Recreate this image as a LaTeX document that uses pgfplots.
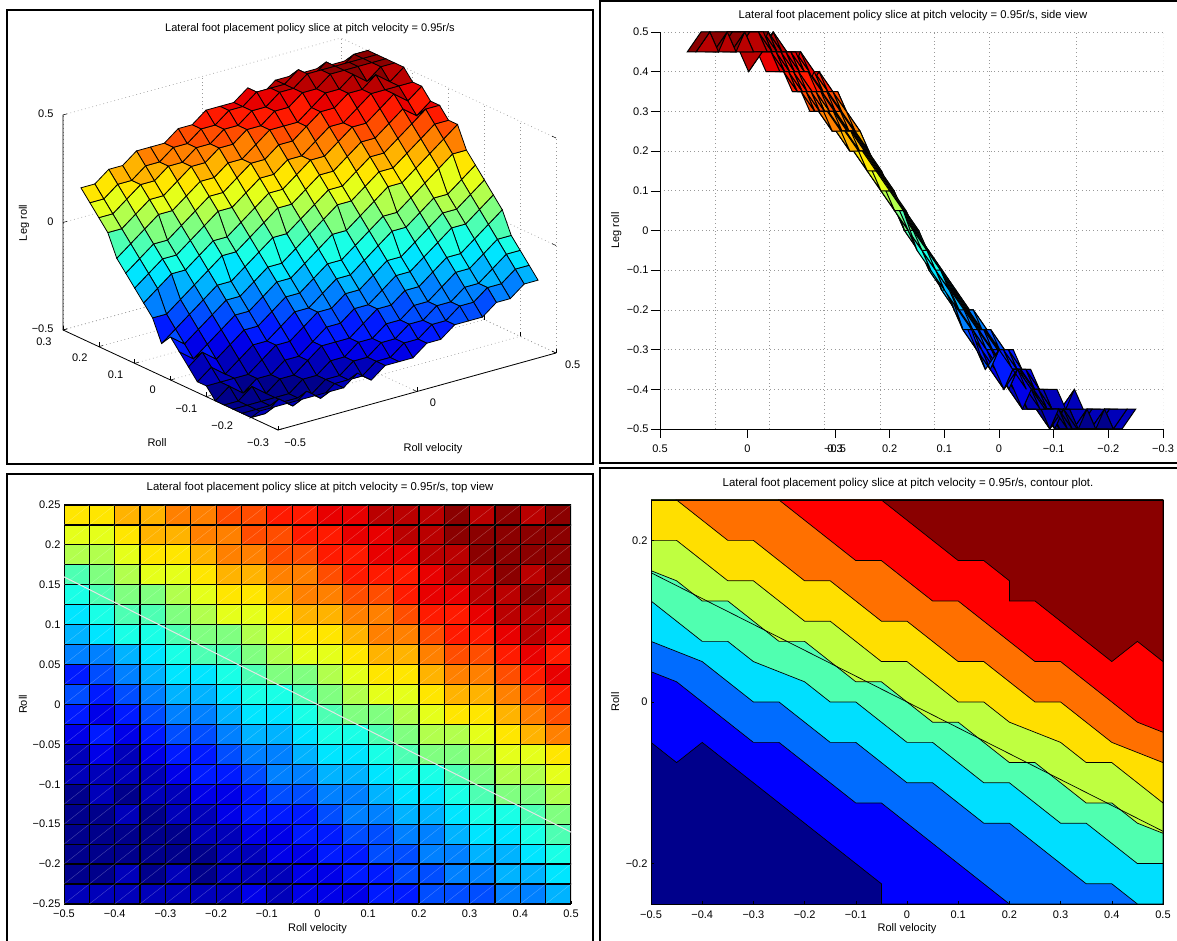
\documentclass[border=0pt]{standalone}
\usepackage{fontspec}
\setmainfont{Liberation Sans}
\usepackage{pgfplots}
\usepackage{pgfplotstable}
\pgfplotsset{compat=1.18}
\newcommand{\lab}{\fontsize{11}{13}\selectfont}
\pgfplotstableread[row sep=\\]{
v r z\\
-.5 -.25 -.45\\ -.45 -.25 -.45\\ -.4 -.25 -.45\\ -.35 -.25 -.45\\ -.3 -.25 -.45\\ -.25 -.25 -.45\\ -.2 -.25 -.45\\ -.15 -.25 -.4\\ -.1 -.25 -.45\\ -.05 -.25 -.4\\ 0 -.25 -.4\\ .05 -.25 -.4\\ .1 -.25 -.35\\ .15 -.25 -.35\\ .2 -.25 -.3\\ .25 -.25 -.3\\ .3 -.25 -.3\\ .35 -.25 -.25\\ .4 -.25 -.25\\ .45 -.25 -.2\\ .5 -.25 -.2\\
-.5 -.225 -.5\\ -.45 -.225 -.5\\ -.4 -.225 -.45\\ -.35 -.225 -.5\\ -.3 -.225 -.45\\ -.25 -.225 -.5\\ -.2 -.225 -.45\\ -.15 -.225 -.45\\ -.1 -.225 -.45\\ -.05 -.225 -.4\\ 0 -.225 -.4\\ .05 -.225 -.35\\ .1 -.225 -.35\\ .15 -.225 -.3\\ .2 -.225 -.3\\ .25 -.225 -.25\\ .3 -.225 -.25\\ .35 -.225 -.2\\ .4 -.225 -.2\\ .45 -.225 -.15\\ .5 -.225 -.15\\
-.5 -.2 -.5\\ -.45 -.2 -.5\\ -.4 -.2 -.5\\ -.35 -.2 -.5\\ -.3 -.2 -.5\\ -.25 -.2 -.5\\ -.2 -.2 -.45\\ -.15 -.2 -.45\\ -.1 -.2 -.4\\ -.05 -.2 -.4\\ 0 -.2 -.35\\ .05 -.2 -.35\\ .1 -.2 -.3\\ .15 -.2 -.3\\ .2 -.2 -.25\\ .25 -.2 -.25\\ .3 -.2 -.2\\ .35 -.2 -.2\\ .4 -.2 -.15\\ .45 -.2 -.1\\ .5 -.2 -.1\\
-.5 -.175 -.5\\ -.45 -.175 -.5\\ -.4 -.175 -.5\\ -.35 -.175 -.5\\ -.3 -.175 -.5\\ -.25 -.175 -.45\\ -.2 -.175 -.45\\ -.15 -.175 -.4\\ -.1 -.175 -.4\\ -.05 -.175 -.35\\ 0 -.175 -.35\\ .05 -.175 -.3\\ .1 -.175 -.3\\ .15 -.175 -.25\\ .2 -.175 -.25\\ .25 -.175 -.2\\ .3 -.175 -.15\\ .35 -.175 -.15\\ .4 -.175 -.1\\ .45 -.175 -.05\\ .5 -.175 -.05\\
-.5 -.15 -.5\\ -.45 -.15 -.5\\ -.4 -.15 -.45\\ -.35 -.15 -.5\\ -.3 -.15 -.45\\ -.25 -.15 -.45\\ -.2 -.15 -.4\\ -.15 -.15 -.35\\ -.1 -.15 -.35\\ -.05 -.15 -.35\\ 0 -.15 -.3\\ .05 -.15 -.25\\ .1 -.15 -.25\\ .15 -.15 -.2\\ .2 -.15 -.2\\ .25 -.15 -.15\\ .3 -.15 -.1\\ .35 -.15 -.1\\ .4 -.15 -.05\\ .45 -.15 0\\ .5 -.15 .05\\
-.5 -.125 -.5\\ -.45 -.125 -.45\\ -.4 -.125 -.5\\ -.35 -.125 -.45\\ -.3 -.125 -.45\\ -.25 -.125 -.4\\ -.2 -.125 -.4\\ -.15 -.125 -.35\\ -.1 -.125 -.3\\ -.05 -.125 -.3\\ 0 -.125 -.25\\ .05 -.125 -.25\\ .1 -.125 -.2\\ .15 -.125 -.15\\ .2 -.125 -.15\\ .25 -.125 -.1\\ .3 -.125 -.05\\ .35 -.125 0\\ .4 -.125 0\\ .45 -.125 .05\\ .5 -.125 .1\\
-.5 -.1 -.45\\ -.45 -.1 -.45\\ -.4 -.1 -.45\\ -.35 -.1 -.45\\ -.3 -.1 -.4\\ -.25 -.1 -.35\\ -.2 -.1 -.35\\ -.15 -.1 -.3\\ -.1 -.1 -.25\\ -.05 -.1 -.25\\ 0 -.1 -.2\\ .05 -.1 -.2\\ .1 -.1 -.15\\ .15 -.1 -.1\\ .2 -.1 -.1\\ .25 -.1 -.05\\ .3 -.1 0\\ .35 -.1 .05\\ .4 -.1 .05\\ .45 -.1 .1\\ .5 -.1 .15\\
-.5 -.075 -.45\\ -.45 -.075 -.4\\ -.4 -.075 -.45\\ -.35 -.075 -.4\\ -.3 -.075 -.35\\ -.25 -.075 -.35\\ -.2 -.075 -.3\\ -.15 -.075 -.25\\ -.1 -.075 -.25\\ -.05 -.075 -.2\\ 0 -.075 -.15\\ .05 -.075 -.15\\ .1 -.075 -.1\\ .15 -.075 -.05\\ .2 -.075 0\\ .25 -.075 0\\ .3 -.075 .05\\ .35 -.075 .1\\ .4 -.075 .1\\ .45 -.075 .15\\ .5 -.075 .2\\
-.5 -.05 -.4\\ -.45 -.05 -.35\\ -.4 -.05 -.4\\ -.35 -.05 -.35\\ -.3 -.05 -.3\\ -.25 -.05 -.3\\ -.2 -.05 -.25\\ -.15 -.05 -.2\\ -.1 -.05 -.2\\ -.05 -.05 -.15\\ 0 -.05 -.1\\ .05 -.05 -.1\\ .1 -.05 -.05\\ .15 -.05 0\\ .2 -.05 .05\\ .25 -.05 .05\\ .3 -.05 .1\\ .35 -.05 .15\\ .4 -.05 .2\\ .45 -.05 .25\\ .5 -.05 .25\\
-.5 -.025 -.35\\ -.45 -.025 -.4\\ -.4 -.025 -.35\\ -.35 -.025 -.3\\ -.3 -.025 -.25\\ -.25 -.025 -.25\\ -.2 -.025 -.2\\ -.15 -.025 -.15\\ -.1 -.025 -.15\\ -.05 -.025 -.1\\ 0 -.025 -.05\\ .05 -.025 0\\ .1 -.025 0\\ .15 -.025 .05\\ .2 -.025 .1\\ .25 -.025 .15\\ .3 -.025 .15\\ .35 -.025 .2\\ .4 -.025 .25\\ .45 -.025 .3\\ .5 -.025 .35\\
-.5 0 -.3\\ -.45 0 -.35\\ -.4 0 -.3\\ -.35 0 -.25\\ -.3 0 -.2\\ -.25 0 -.2\\ -.2 0 -.15\\ -.15 0 -.1\\ -.1 0 -.1\\ -.05 0 -.05\\ 0 0 0\\ .05 0 .05\\ .1 0 .1\\ .15 0 .1\\ .2 0 .15\\ .25 0 .2\\ .3 0 .2\\ .35 0 .25\\ .4 0 .3\\ .45 0 .35\\ .5 0 .35\\
-.5 .025 -.35\\ -.45 .025 -.3\\ -.4 .025 -.25\\ -.35 .025 -.2\\ -.3 .025 -.15\\ -.25 .025 -.15\\ -.2 .025 -.1\\ -.15 .025 -.05\\ -.1 .025 0\\ -.05 .025 0\\ 0 .025 .05\\ .05 .025 .1\\ .1 .025 .15\\ .15 .025 .15\\ .2 .025 .2\\ .25 .025 .25\\ .3 .025 .25\\ .35 .025 .3\\ .4 .025 .35\\ .45 .025 .4\\ .5 .025 .4\\
-.5 .05 -.25\\ -.45 .05 -.25\\ -.4 .05 -.2\\ -.35 .05 -.15\\ -.3 .05 -.1\\ -.25 .05 -.05\\ -.2 .05 -.05\\ -.15 .05 0\\ -.1 .05 .05\\ -.05 .05 .1\\ 0 .05 .1\\ .05 .05 .15\\ .1 .05 .2\\ .15 .05 .2\\ .2 .05 .25\\ .25 .05 .3\\ .3 .05 .3\\ .35 .05 .35\\ .4 .05 .4\\ .45 .05 .35\\ .5 .05 .4\\
-.5 .075 -.2\\ -.45 .075 -.15\\ -.4 .075 -.1\\ -.35 .075 -.1\\ -.3 .075 -.05\\ -.25 .075 0\\ -.2 .075 0\\ -.15 .075 .05\\ -.1 .075 .1\\ -.05 .075 .15\\ 0 .075 .15\\ .05 .075 .2\\ .1 .075 .25\\ .15 .075 .25\\ .2 .075 .3\\ .25 .075 .35\\ .3 .075 .35\\ .35 .075 .4\\ .4 .075 .45\\ .45 .075 .4\\ .5 .075 .45\\
-.5 .1 -.15\\ -.45 .1 -.1\\ -.4 .1 -.05\\ -.35 .1 -.05\\ -.3 .1 0\\ -.25 .1 .05\\ -.2 .1 .1\\ -.15 .1 .1\\ -.1 .1 .15\\ -.05 .1 .2\\ 0 .1 .2\\ .05 .1 .25\\ .1 .1 .25\\ .15 .1 .3\\ .2 .1 .35\\ .25 .1 .35\\ .3 .1 .4\\ .35 .1 .45\\ .4 .1 .45\\ .45 .1 .45\\ .5 .1 .45\\
-.5 .125 -.1\\ -.45 .125 -.05\\ -.4 .125 0\\ -.35 .125 0\\ -.3 .125 .05\\ -.25 .125 .1\\ -.2 .125 .15\\ -.15 .125 .15\\ -.1 .125 .2\\ -.05 .125 .25\\ 0 .125 .25\\ .05 .125 .3\\ .1 .125 .3\\ .15 .125 .35\\ .2 .125 .4\\ .25 .125 .4\\ .3 .125 .45\\ .35 .125 .45\\ .4 .125 .5\\ .45 .125 .45\\ .5 .125 .5\\
-.5 .15 -.05\\ -.45 .15 0\\ -.4 .15 .05\\ -.35 .15 .1\\ -.3 .15 .1\\ -.25 .15 .15\\ -.2 .15 .2\\ -.15 .15 .2\\ -.1 .15 .25\\ -.05 .15 .25\\ 0 .15 .3\\ .05 .15 .35\\ .1 .15 .35\\ .15 .15 .35\\ .2 .15 .4\\ .25 .15 .45\\ .3 .15 .45\\ .35 .15 .5\\ .4 .15 .45\\ .45 .15 .5\\ .5 .15 .5\\
-.5 .175 .05\\ -.45 .175 .05\\ -.4 .175 .1\\ -.35 .175 .15\\ -.3 .175 .15\\ -.25 .175 .2\\ -.2 .175 .25\\ -.15 .175 .25\\ -.1 .175 .3\\ -.05 .175 .3\\ 0 .175 .35\\ .05 .175 .35\\ .1 .175 .4\\ .15 .175 .4\\ .2 .175 .45\\ .25 .175 .45\\ .3 .175 .5\\ .35 .175 .5\\ .4 .175 .5\\ .45 .175 .5\\ .5 .175 .5\\
-.5 .2 .1\\ -.45 .2 .1\\ -.4 .2 .15\\ -.35 .2 .2\\ -.3 .2 .2\\ -.25 .2 .25\\ -.2 .2 .25\\ -.15 .2 .3\\ -.1 .2 .3\\ -.05 .2 .35\\ 0 .2 .35\\ .05 .2 .4\\ .1 .2 .4\\ .15 .2 .45\\ .2 .2 .45\\ .25 .2 .5\\ .3 .2 .5\\ .35 .2 .5\\ .4 .2 .5\\ .45 .2 .5\\ .5 .2 .5\\
-.5 .225 .15\\ -.45 .225 .15\\ -.4 .225 .2\\ -.35 .225 .2\\ -.3 .225 .25\\ -.25 .225 .25\\ -.2 .225 .3\\ -.15 .225 .3\\ -.1 .225 .35\\ -.05 .225 .35\\ 0 .225 .4\\ .05 .225 .4\\ .1 .225 .45\\ .15 .225 .45\\ .2 .225 .45\\ .25 .225 .5\\ .3 .225 .45\\ .35 .225 .5\\ .4 .225 .45\\ .45 .225 .5\\ .5 .225 .5\\
-.5 .25 .2\\ -.45 .25 .2\\ -.4 .25 .25\\ -.35 .25 .25\\ -.3 .25 .3\\ -.25 .25 .3\\ -.2 .25 .3\\ -.15 .25 .35\\ -.1 .25 .35\\ -.05 .25 .4\\ 0 .25 .4\\ .05 .25 .4\\ .1 .25 .45\\ .15 .25 .4\\ .2 .25 .45\\ .25 .25 .45\\ .3 .25 .45\\ .35 .25 .45\\ .4 .25 .45\\ .45 .25 .45\\ .5 .25 .45\\
}\surfdata
\definecolor{c1}{HTML}{00008B}
\definecolor{c2}{HTML}{0000FF}
\definecolor{c3}{HTML}{006CFF}
\definecolor{c4}{HTML}{00DFFF}
\definecolor{c5}{HTML}{50FFB0}
\definecolor{c6}{HTML}{BFFF40}
\definecolor{c7}{HTML}{FFDF00}
\definecolor{c8}{HTML}{FF7000}
\definecolor{c9}{HTML}{FF0000}
\definecolor{c10}{HTML}{8A0000}
\pgfplotsset{
  colormap={myjet}{rgb255=(0,0,139) rgb255=(0,0,255) rgb255=(0,128,255) rgb255=(0,255,255) rgb255=(128,255,128) rgb255=(255,255,0) rgb255=(255,128,0) rgb255=(255,0,0) rgb255=(139,0,0)},
  common/.style={
    scale only axis,
    colormap name=myjet,
    point meta min=-0.5, point meta max=0.5,
    tick label style={font=\lab},
    label style={font=\lab},
    title style={font=\lab,yshift=-2pt},
    every tick/.style={black,line width=0.5pt},
  },
  srf/.style={surf, shader=flat corner, draw=black, line width=0.8pt, mesh/cols=21, point meta=\thisrow{z}},
  dots/.style={gray!80,line width=0.6pt,dash pattern=on 0.8pt off 3pt},
}
\begin{document}
\begin{tikzpicture}[x=1pt,y=1pt]
\path[use as bounding box] (0pt,0pt) rectangle (1177pt,941pt);
% ---------- panel 1
\begin{axis}[common,
  at={(309.5pt,707pt)}, anchor=origin,
  x={(278pt,77pt)}, y={(-358.3pt,166.7pt)}, z={(0pt,215pt)},
  xmin=-0.5,xmax=0.5,ymin=-0.3,ymax=0.3,zmin=-0.5,zmax=0.5,
  axis line style={draw=none},
  xtick={-0.5,0,0.5}, xticklabels={−0.5,0,0.5},
  ytick={-0.3,-0.2,-0.1,0,0.1,0.2,0.3}, yticklabels={−0.3,−0.2,−0.1,0,0.1,0.2,0.3},
  ztick={-0.5,0,0.5}, zticklabels={−0.5,0,0.5},
  xtick pos=left, ytick pos=left, ztick pos=left,
  xticklabel style={xshift=11pt,yshift=-3pt},
  yticklabel style={xshift=-12pt,yshift=-2pt},
  zticklabel style={xshift=-6pt},
  grid=major, grid style={dots},
  z buffer=sort, clip=false,
]
\draw[black,line width=0.8pt] (axis cs:-0.5,0.3,0.5) -- (axis cs:-0.5,0.3,-0.5) -- (axis cs:-0.5,-0.3,-0.5) -- (axis cs:0.5,-0.3,-0.5);
\addplot3[srf] table[x=v,y=r,z=z] {\surfdata};
\end{axis}
\node[font=\lab] at (310pt,912pt) {Lateral foot placement policy slice at pitch velocity = 0.95r/s};
\node[font=\lab] at (433pt,492pt) {Roll velocity};
\node[font=\lab] at (157pt,498pt) {Roll};
\node[font=\lab,rotate=90] at (24pt,718pt) {Leg roll};
% ---------- panel 2
\begin{axis}[common,
  at={(660pt,512pt)}, anchor=south west, width=503pt, height=397pt,
  xmin=0,xmax=503,ymin=-0.5,ymax=0.5,
  axis lines=left, axis line style={-,line width=0.8pt},
  tick align=outside, tick pos=left, major tick length=9pt,
  xtick={0,87.5,175,229.67,284.33,339,393.67,448.33,503},
  xticklabels={0.5,0,−0.5,0.2,0.1,0,−0.1,−0.2,−0.3},
  extra x ticks={175}, extra x tick labels={0.3},
  xticklabel style={yshift=-3pt},
  yticklabel style={xshift=1pt},
  ytick={-0.5,-0.4,-0.3,-0.2,-0.1,0,0.1,0.2,0.3,0.4,0.5},
  yticklabels={−0.5,−0.4,−0.3,−0.2,−0.1,0,0.1,0.2,0.3,0.4,0.5},
  ymajorgrids, grid style={dots},
  unbounded coords=jump,
  title={Lateral foot placement policy slice at pitch velocity = 0.95r/s, side view},
  title style={font=\fontsize{11.25}{13}\selectfont,at={(axis description cs:0.503,1.03)},anchor=center},
  ylabel={Leg roll}, ylabel style={at={(axis description cs:-0.087,0.5)},anchor=center},
]
\addplot[dots,forget plot] coordinates {(55,-0.5) (55,0.5) (0,nan) (109,-0.5) (109,0.5) (0,nan) (164,-0.5) (164,0.5) (0,nan) (220,-0.5) (220,0.5) (0,nan) (274,-0.5) (274,0.5) (0,nan) (329,-0.5) (329,0.5) (0,nan) (416,-0.5) (416,0.5) (0,nan) (503,-0.5) (503,0.5)};
\addplot[srf,line width=1pt] table[x expr={(0.5-\thisrow{v})*175+(0.3-\thisrow{r})*546.7},y=z] {\surfdata};
\end{axis}
% ---------- panel 3
\begin{axis}[common,
  at={(64pt,37pt)}, anchor=south west, width=507pt, height=399pt,
  xmin=-0.5,xmax=0.5,ymin=-0.25,ymax=0.25,
  axis lines=left, axis line style={-,line width=0.8pt},
  tick align=inside, major tick length=3pt,
  xtick={-0.5,-0.4,-0.3,-0.2,-0.1,0,0.1,0.2,0.3,0.4,0.5},
  xticklabels={−0.5,−0.4,−0.3,−0.2,−0.1,0,0.1,0.2,0.3,0.4,0.5},
  ytick={-0.25,-0.2,-0.15,-0.1,-0.05,0,0.05,0.1,0.15,0.2,0.25},
  yticklabels={−0.25,−0.2,−0.15,−0.1,−0.05,0,0.05,0.1,0.15,0.2,0.25},
  xticklabel style={yshift=-2pt},
  unbounded coords=jump,
  title={Lateral foot placement policy slice at pitch velocity = 0.95r/s, top view},
  title style={font=\fontsize{11.35}{13}\selectfont,at={(axis description cs:0.505,1.033)},anchor=center},
  xlabel={Roll velocity}, xlabel style={at={(axis description cs:0.5,-0.063)},anchor=center},
  ylabel={Roll}, ylabel style={at={(axis description cs:-0.081,0.5)},anchor=center},
]
\addplot[srf,line width=1.2pt] table[x=v,y=r] {\surfdata};
\addplot[white,opacity=0.3,line width=0.35pt,forget plot] coordinates {
(-.5,-.25) (.5,.25) (0,nan) (-.5,-.225) (.45,.25) (0,nan) (-.5,-.2) (.4,.25) (0,nan) (-.5,-.175) (.35,.25) (0,nan) (-.5,-.15) (.3,.25) (0,nan)
(-.5,-.125) (.25,.25) (0,nan) (-.5,-.1) (.2,.25) (0,nan) (-.5,-.075) (.15,.25) (0,nan) (-.5,-.05) (.1,.25) (0,nan) (-.5,-.025) (.05,.25) (0,nan)
(-.5,0) (0,.25) (0,nan) (-.5,.025) (-.05,.25) (0,nan) (-.5,.05) (-.1,.25) (0,nan) (-.5,.075) (-.15,.25) (0,nan) (-.5,.1) (-.2,.25) (0,nan)
(-.5,.125) (-.25,.25) (0,nan) (-.5,.15) (-.3,.25) (0,nan) (-.5,.175) (-.35,.25) (0,nan) (-.5,.2) (-.4,.25) (0,nan) (-.5,.225) (-.45,.25) (0,nan)
(-.45,-.25) (.5,.225) (0,nan) (-.4,-.25) (.5,.2) (0,nan) (-.35,-.25) (.5,.175) (0,nan) (-.3,-.25) (.5,.15) (0,nan) (-.25,-.25) (.5,.125) (0,nan)
(-.2,-.25) (.5,.1) (0,nan) (-.15,-.25) (.5,.075) (0,nan) (-.1,-.25) (.5,.05) (0,nan) (-.05,-.25) (.5,.025) (0,nan) (0,-.25) (.5,0) (0,nan)
(.05,-.25) (.5,-.025) (0,nan) (.1,-.25) (.5,-.05) (0,nan) (.15,-.25) (.5,-.075) (0,nan) (.2,-.25) (.5,-.1) (0,nan) (.25,-.25) (.5,-.125) (0,nan)
(.3,-.25) (.5,-.15) (0,nan) (.35,-.25) (.5,-.175) (0,nan) (.4,-.25) (.5,-.2) (0,nan) (.45,-.25) (.5,-.225)};
\addplot[white!80!gray,line width=1pt,forget plot] coordinates {(-0.5,0.16) (0.5,-0.16)};
\end{axis}
% ---------- panel 4
\begin{axis}[common,
  at={(651pt,37pt)}, anchor=south west, width=512pt, height=404pt,
  xmin=-0.5,xmax=0.5,ymin=-0.25,ymax=0.25,
  axis on top, axis line style={line width=0.8pt},
  tick align=inside, major tick length=3pt, tick pos=left,
  xtick={-0.5,-0.4,-0.3,-0.2,-0.1,0,0.1,0.2,0.3,0.4,0.5},
  xticklabels={−0.5,−0.4,−0.3,−0.2,−0.1,0,0.1,0.2,0.3,0.4,0.5},
  ytick={-0.2,0,0.2}, yticklabels={−0.2,0,0.2},
  xticklabel style={yshift=-3pt},
  title={Lateral foot placement policy slice at pitch velocity = 0.95r/s, contour plot.},
  title style={font=\fontsize{11.45}{13}\selectfont,at={(axis description cs:0.502,1.032)},anchor=center},
  xlabel={Roll velocity}, xlabel style={at={(axis description cs:0.5,-0.062)},anchor=center},
  ylabel={Roll}, ylabel style={at={(axis description cs:-0.07,0.5)},anchor=center},
]
\addplot[fill=c1,draw=black,line width=0.7pt] coordinates {(-.5,-.25) (.5,-.25) (.5,.25) (-.5,.25)} --cycle;
\addplot[fill=c2,draw=black,line width=0.7pt] coordinates {(-.5,-.05) (-.45,-.075) (-.4,-.05) (-.05,-.225) (-.05,-.25) (.5,-.25) (.5,.25) (-.5,.25)} --cycle;
\addplot[fill=c3,draw=black,line width=0.7pt] coordinates {(-.5,.0375) (-.45,.025) (-.4,0) (-.3,-.05) (-.25,-.05) (-.1,-.125) (-.05,-.125) (.2,-.25) (.5,-.25) (.5,.25) (-.5,.25)} --cycle;
\addplot[fill=c4,draw=black,line width=0.7pt] coordinates {(-.5,.075) (-.45,.0625) (-.4,.05) (-.3,0) (-.25,0) (-.15,-.05) (-.1,-.05) (0,-.1) (.05,-.1) (.15,-.15) (.2,-.15) (.35,-.225) (.4,-.225) (.45,-.25) (.5,-.25) (.5,.25) (-.5,.25)} --cycle;
\addplot[fill=c5,draw=black,line width=0.7pt] coordinates {(-.5,.125) (-.4,.075) (-.35,.075) (-.3,.05) (-.25,.0375) (-.2,.025) (-.15,0) (-.1,0) (0,-.05) (.05,-.05) (.15,-.1) (.2,-.1) (.3,-.15) (.35,-.15) (.45,-.2) (.5,-.2) (.5,.25) (-.5,.25)} --cycle;
\addplot[fill=c6,draw=black,line width=0.7pt] coordinates {(-.5,.1625) (-.45,.15) (-.4,.125) (-.35,.125) (-.25,.075) (-.2,.075) (-.1,.025) (-.05,.025) (.05,-.025) (.1,-.025) (.2,-.075) (.25,-.075) (.35,-.125) (.4,-.125) (.45,-.15) (.5,-.1625) (.5,.25) (-.5,.25)} --cycle;
\addplot[fill=c7,draw=black,line width=0.7pt] coordinates {(-.5,.2) (-.45,.2) (-.35,.15) (-.3,.15) (-.2,.1) (-.15,.1) (-.05,.05) (0,.05) (.1,0) (.15,0) (.2,-.025) (.25,-.0375) (.3,-.05) (.35,-.075) (.4,-.075) (.5,-.125) (.5,.25) (-.5,.25)} --cycle;
\addplot[fill=c8,draw=black,line width=0.7pt] coordinates {(-.45,.25) (-.35,.2) (-.3,.2) (-.2,.15) (-.15,.15) (-.05,.1) (0,.1) (.1,.05) (.15,.05) (.25,0) (.3,0) (.4,-.05) (.45,-.0625) (.5,-.075) (.5,.25)} --cycle;
\addplot[fill=c9,draw=black,line width=0.7pt] coordinates {(-.25,.25) (-.1,.175) (-.05,.175) (.05,.125) (.1,.125) (.2,.075) (.25,.05) (.3,.05) (.45,-.025) (.5,-.0375) (.5,.25)} --cycle;
\addplot[fill=c10,draw=black,line width=0.7pt] coordinates {(-.05,.25) (.1,.175) (.15,.175) (.2,.15) (.2,.125) (.25,.125) (.4,.05) (.45,.075) (.5,.05) (.5,.25)} --cycle;
\addplot[black,line width=0.7pt] coordinates {(-0.5,0.16) (0.5,-0.16)};
\end{axis}
% ---------- frames
\draw[black,line width=2pt] (7pt,477pt) rectangle (593pt,931pt);
\draw[black,line width=2pt] (1182pt,478pt) -- (600pt,478pt) -- (600pt,940pt) -- (1182pt,940pt);
\draw[black,line width=2pt] (7pt,-5pt) -- (7pt,467pt) -- (593pt,467pt) -- (593pt,-5pt);
\draw[black,line width=2pt] (600pt,-5pt) -- (600pt,473pt) -- (1182pt,473pt);
\end{tikzpicture}
\end{document}
